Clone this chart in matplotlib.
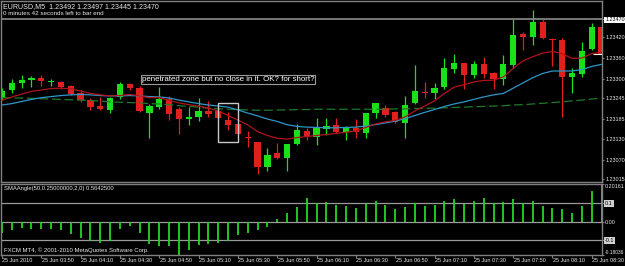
import matplotlib
matplotlib.use("Agg")
import matplotlib.pyplot as plt
import matplotlib.transforms as mtransforms
from matplotlib.patches import Rectangle
import numpy as np

# ---------------- data ----------------
opens = [1.23247, 1.23269, 1.23290, 1.23296, 1.23302, 1.23292, 1.23292, 1.23280, 1.23261, 1.23240,
         1.23222, 1.23212, 1.23248, 1.23286, 1.23275, 1.23204, 1.23219, 1.23242, 1.23216, 1.23185,
         1.23193, 1.23210, 1.23208, 1.23182, 1.23171, 1.23136, 1.23120, 1.23050, 1.23088, 1.23075,
         1.23115, 1.23153, 1.23136, 1.23158, 1.23168, 1.23150, 1.23161, 1.23147, 1.23202, 1.23217,
         1.23207, 1.23176, 1.23231, 1.23264, 1.23259, 1.23277, 1.23329, 1.23345, 1.23312, 1.23343,
         1.23317, 1.23300, 1.23340, 1.23428, 1.23419, 1.23464, 1.23414, 1.23412, 1.23307, 1.23315,
         1.23386, 1.23448]
highs = [1.23274, 1.23299, 1.23313, 1.23309, 1.23312, 1.23301, 1.23295, 1.23282, 1.23269, 1.23247,
         1.23248, 1.23250, 1.23293, 1.23290, 1.23280, 1.23229, 1.23277, 1.23252, 1.23221, 1.23220,
         1.23246, 1.23238, 1.23214, 1.23207, 1.23173, 1.23153, 1.23121, 1.23102, 1.23117, 1.23115,
         1.23172, 1.23160, 1.23188, 1.23188, 1.23188, 1.23166, 1.23186, 1.23204, 1.23231, 1.23226,
         1.23209, 1.23252, 1.23340, 1.23293, 1.23288, 1.23359, 1.23372, 1.23347, 1.23352, 1.23362,
         1.23321, 1.23369, 1.23471, 1.23435, 1.23497, 1.23471, 1.23416, 1.23416, 1.23331, 1.23405,
         1.23461, 1.23451]
lows = [1.23240, 1.23259, 1.23274, 1.23278, 1.23280, 1.23281, 1.23271, 1.23255, 1.23236, 1.23212,
        1.23212, 1.23202, 1.23242, 1.23269, 1.23205, 1.23131, 1.23214, 1.23183, 1.23142, 1.23169,
        1.23180, 1.23193, 1.23186, 1.23155, 1.23142, 1.23106, 1.23029, 1.23039, 1.23072, 1.23039,
        1.23113, 1.23126, 1.23112, 1.23140, 1.23145, 1.23126, 1.23131, 1.23131, 1.23188, 1.23193,
        1.23176, 1.23131, 1.23229, 1.23247, 1.23243, 1.23271, 1.23318, 1.23271, 1.23302, 1.23302,
        1.23272, 1.23283, 1.23331, 1.23383, 1.23397, 1.23414, 1.23338, 1.23193, 1.23259, 1.23307,
        1.23383, 1.23366]
closes = [1.23267, 1.23288, 1.23297, 1.23304, 1.23294, 1.23295, 1.23278, 1.23257, 1.23240, 1.23220,
          1.23215, 1.23247, 1.23286, 1.23275, 1.23209, 1.23224, 1.23243, 1.23200, 1.23185, 1.23192,
          1.23209, 1.23199, 1.23189, 1.23169, 1.23143, 1.23131, 1.23050, 1.23083, 1.23075, 1.23115,
          1.23155, 1.23135, 1.23161, 1.23166, 1.23150, 1.23161, 1.23148, 1.23204, 1.23231, 1.23198,
          1.23178, 1.23226, 1.23266, 1.23261, 1.23275, 1.23331, 1.23345, 1.23312, 1.23343, 1.23315,
          1.23300, 1.23343, 1.23426, 1.23421, 1.23464, 1.23416, 1.23411, 1.23307, 1.23317, 1.23381,
          1.23448, 1.23369]

ma_fast = [1.23240, 1.23249, 1.23257, 1.23265, 1.23269, 1.23273, 1.23274, 1.23272, 1.23266, 1.23259,
           1.23255, 1.23252, 1.23253, 1.23256, 1.23252, 1.23247, 1.23247, 1.23239, 1.23232, 1.23227,
           1.23223, 1.23217, 1.23209, 1.23196, 1.23183, 1.23169, 1.23150, 1.23139, 1.23131, 1.23129,
           1.23133, 1.23136, 1.23139, 1.23142, 1.23145, 1.23148, 1.23152, 1.23162, 1.23172, 1.23178,
           1.23182, 1.23192, 1.23209, 1.23223, 1.23238, 1.23259, 1.23277, 1.23284, 1.23292, 1.23296,
           1.23297, 1.23306, 1.23330, 1.23352, 1.23364, 1.23374, 1.23379, 1.23372, 1.23359, 1.23360,
           1.23373, 1.23376]
ma_mid = [1.23226, 1.23230, 1.23236, 1.23242, 1.23247, 1.23250, 1.23253, 1.23255, 1.23256, 1.23255,
          1.23253, 1.23252, 1.23252, 1.23253, 1.23252, 1.23250, 1.23249, 1.23246, 1.23240, 1.23235,
          1.23230, 1.23226, 1.23223, 1.23220, 1.23212, 1.23203, 1.23195, 1.23186, 1.23179, 1.23170,
          1.23165, 1.23163, 1.23162, 1.23161, 1.23161, 1.23162, 1.23163, 1.23166, 1.23170, 1.23175,
          1.23180, 1.23187, 1.23196, 1.23205, 1.23213, 1.23222, 1.23229, 1.23235, 1.23242, 1.23249,
          1.23255, 1.23259, 1.23274, 1.23289, 1.23304, 1.23316, 1.23323, 1.23323, 1.23323, 1.23327,
          1.23336, 1.23342]
ma_slow = [1.23247, 1.23246, 1.23246, 1.23245, 1.23244, 1.23243, 1.23242, 1.23241, 1.23240, 1.23239,
           1.23237, 1.23235, 1.23234, 1.23233, 1.23232, 1.23230, 1.23229, 1.23227, 1.23224, 1.23222,
           1.23220, 1.23217, 1.23215, 1.23214, 1.23213, 1.23212, 1.23211, 1.23211, 1.23212, 1.23212,
           1.23213, 1.23213, 1.23214, 1.23214, 1.23214, 1.23214, 1.23214, 1.23214, 1.23214, 1.23214,
           1.23215, 1.23215, 1.23216, 1.23217, 1.23217, 1.23218, 1.23219, 1.23220, 1.23221, 1.23222,
           1.23223, 1.23224, 1.23226, 1.23227, 1.23229, 1.23231, 1.23233, 1.23235, 1.23238, 1.23240,
           1.23243, 1.23246]

sma_angle = [-0.064, -0.046, -0.034, -0.041, -0.042, -0.041, -0.046, -0.068, -0.088, -0.105,
             -0.115, -0.104, -0.042, -0.023, -0.060, -0.122, -0.131, -0.131, -0.1803, -0.154,
             -0.127, -0.122, -0.115, -0.104, -0.075, -0.060, -0.046, -0.028, 0.012, 0.044,
             0.077, 0.125, 0.098, 0.105, 0.090, 0.085, 0.075, 0.095, 0.110, 0.090,
             0.070, 0.080, 0.100, 0.085, 0.090, 0.110, 0.120, 0.095, 0.110, 0.125,
             0.100, 0.105, 0.120, 0.100, 0.110, 0.085, 0.075, 0.068, 0.046, 0.085,
             0.165, 0.2016]

price_ticks = [1.23470, 1.23420, 1.23360, 1.23300, 1.23245, 1.23185, 1.23130, 1.23070, 1.23015]
price_tick_labels = ["1.23470", "1.23420", "1.23360", "1.23300", "1.23245", "1.23185",
                     "1.23130", "1.23070", "1.23015"]
ind_ticks = [0.20161, 0.1, 0.0, -0.1, -0.18036]
ind_tick_labels = ["0.20161", "0.1", "0.00", "-0.1", "-0.18036"]
ind_levels = [0.1, 0.0, -0.1]
time_tick_bars = [0, 4, 8, 12, 16, 20, 24, 28, 32, 36, 40, 44, 48, 52, 56, 60]
time_tick_labels = ["25 Jun 2010", "25 Jun 03:50", "25 Jun 04:10", "25 Jun 04:30", "25 Jun 04:50",
                    "25 Jun 05:10", "25 Jun 05:30", "25 Jun 05:50", "25 Jun 06:10", "25 Jun 06:30",
                    "25 Jun 06:50", "25 Jun 07:10", "25 Jun 07:30", "25 Jun 07:50", "25 Jun 08:10",
                    "25 Jun 08:30"]
hline_price = 1.23470
bid_marker_price = 1.23372
box_bars = [22.0, 23.98]
box_prices = [1.23231, 1.23121]
note_bar, note_price = 14.2, 1.23299
note_text = "penetrated zone but no close in it. OK? for short?"
header1 = "EURUSD,M5  1.23492 1.23497 1.23445 1.23470"
header2 = "0 minutes 42 seconds left to bar end"
ind_name = "SMAAngle(50,0.25000000,2,0) 0.5642500"
copyright_text = "FXCM MT4, \u00a9 2001-2010 MetaQuotes Software Corp."

# ---------------- layout ----------------
W, H = 625, 266
plt.rcParams['font.family'] = ['Liberation Sans', 'DejaVu Sans']

def fx(px):
    return px / W

def fy(py):
    return 1 - py / H

BAR_PX = 9.83
X0_PX = 2.0
AX_L, AX_R = 1.0, 602.0
xmin = -(X0_PX - AX_L) / BAR_PX
xmax = xmin + (AX_R - AX_L) / BAR_PX

PRICE_PER_PX = 0.00002853
P_AT_0 = 1.235256
MAIN_TOP, MAIN_BOT = 1.0, 182.0
IND_TOP, IND_BOT = 184.2, 254.9

GRID = '#808080'
BULL = '#19e019'
BEAR = '#e01f1f'
TXT = '#e8e8e8'

fig = plt.figure(figsize=(W / 100, H / 100), dpi=100, facecolor='black')

ax = fig.add_axes([fx(AX_L), fy(MAIN_BOT), (AX_R - AX_L) / W, (MAIN_BOT - MAIN_TOP) / H])
ax.set_facecolor('black')
ax.set_xlim(xmin, xmax)
ax.set_ylim(P_AT_0 - PRICE_PER_PX * MAIN_BOT, P_AT_0 - PRICE_PER_PX * MAIN_TOP)
for s in ax.spines.values():
    s.set_color(GRID)
    s.set_linewidth(1.0)

bars = np.arange(len(opens))
o = np.array(opens); h = np.array(highs); l = np.array(lows); c = np.array(closes)
up = c >= o
cols = np.where(up, BULL, BEAR)

ax.axhline(hline_price, color='#8c8c8c', lw=1.2, zorder=1)
ax.vlines(bars, l, h, colors=cols, lw=0.9, zorder=2)
body_bot = np.minimum(o, c)
body_h = np.maximum(np.abs(c - o), 0.00003)
ax.bar(bars, body_h, bottom=body_bot, width=0.64, color=cols, linewidth=0, zorder=2)

ax.plot(bars, ma_slow, color='#1f7a2a', lw=0.9, dashes=(7, 3), zorder=3)
ax.plot(bars, ma_mid, color='#2f96c8', lw=0.9, zorder=3)
ax.plot(bars, ma_fast, color='#b0141c', lw=0.9, zorder=3)

ax.hlines(bid_marker_price, 60.1, 61.2, color='#f0f0f0', lw=0.8, zorder=4)
ax.add_patch(Rectangle((box_bars[0], box_prices[1]), box_bars[1] - box_bars[0],
                       box_prices[0] - box_prices[1], fill=False, ec='#c8c8c8', lw=1.0, zorder=4))
ax.text(note_bar, note_price, note_text, fontsize=5.7, color='white', va='center', ha='left',
        zorder=5, bbox=dict(boxstyle='square,pad=0.12', fc='black', ec='#9a9a9a', lw=0.8))

ax.set_xticks([])
ax.set_yticks(price_ticks)
ax.set_yticklabels(price_tick_labels)
ax.tick_params(axis='y', left=False, right=True, labelleft=False, labelright=True,
               length=1.5, width=0.8, color=GRID, labelcolor=TXT, labelsize=3.9, pad=0.8)
first = ax.yaxis.get_major_ticks()[0].label2
first.set_color('black')
first.set_bbox(dict(fc='white', ec='none', pad=0.5))

# indicator panel
ax2 = fig.add_axes([fx(AX_L), fy(IND_BOT), (AX_R - AX_L) / W, (IND_BOT - IND_TOP) / H])
ax2.set_facecolor('black')
ax2.set_xlim(xmin, xmax)
ax2.set_ylim(ind_ticks[-1], ind_ticks[0])
for s in ax2.spines.values():
    s.set_color(GRID)
    s.set_linewidth(1.0)
for lv in ind_levels:
    ax2.axhline(lv, color='#9a9a9a', lw=0.9, zorder=1)
ax2.vlines(bars, 0, sma_angle, colors='#22d822', lw=1.3, zorder=2)

ax2.set_yticks(ind_ticks)
ax2.set_yticklabels(ind_tick_labels)
ax2.tick_params(axis='y', left=False, right=True, labelleft=False, labelright=True,
                length=1.5, width=0.8, color=GRID, labelcolor=TXT, labelsize=3.9, pad=0.8)
yt = ax2.yaxis.get_major_ticks()
yt[0].label2.set_va('top')
yt[-1].label2.set_va('bottom')
yt[-1].label2.set_fontsize(3.5)
for k in (1, 3):
    yt[k].label2.set_color('black')
    yt[k].label2.set_bbox(dict(fc='#d0d0d0', ec='none', pad=0.5))

ax2.set_xticks(time_tick_bars)
ax2.set_xticklabels([])
ax2.tick_params(axis='x', bottom=True, length=2.5, width=0.8, color=GRID, direction='out')
tr = mtransforms.blended_transform_factory(ax2.transData, fig.transFigure)
for b, lab in zip(time_tick_bars, time_tick_labels):
    ax2.text(b + 0.05, fy(260.5), lab, transform=tr, fontsize=4.0, color=TXT,
             va='center', ha='left', clip_on=False)

# header / labels
fig.text(fx(3), fy(6.2), header1, fontsize=5.1, color=TXT, va='center', ha='left')
fig.text(fx(3), fy(13.3), header2, fontsize=4.5, color=TXT, va='center', ha='left')
fig.text(fx(4), fy(188.5), ind_name, fontsize=4.2, color=TXT, va='center', ha='left')
fig.text(fx(4), fy(250.5), copyright_text, fontsize=4.35, color=TXT, va='center', ha='left')

fig.savefig('out.png', dpi=100, facecolor='black')
